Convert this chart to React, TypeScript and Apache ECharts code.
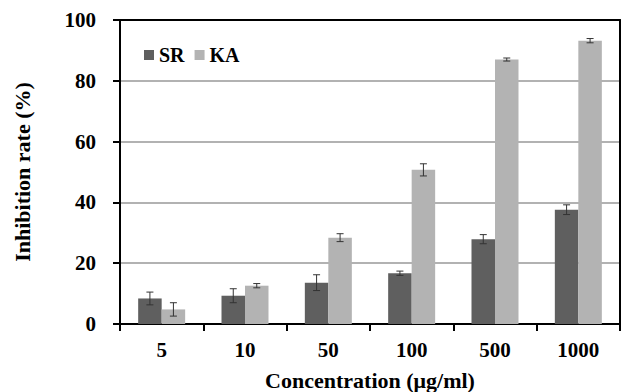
import React, { useEffect, useRef } from "react";
import * as echarts from "echarts";

const categories = ["5", "10", "50", "100", "500", "1000"];
const srValues = [8.4, 9.3, 13.6, 16.7, 27.9, 37.6];
const srErrors = [2.1, 2.3, 2.6, 0.7, 1.5, 1.6];
const kaValues = [4.8, 12.6, 28.4, 50.7, 87.0, 93.2];
const kaErrors = [2.2, 0.7, 1.3, 2.0, 0.5, 0.7];
const yTicks = [0, 20, 40, 60, 80, 100];

const FONT = '"Liberation Serif", "Times New Roman", serif';
const SR_COLOR = "#5f5f5f";
const KA_COLOR = "#b3b3b3";
const BAR_FRAC = 0.282;

function errorSeries(values: number[], errors: number[], side: number) {
  return {
    type: "custom",
    silent: true,
    z: 10,
    data: values.map((v, i) => [i, v - errors[i], v + errors[i]]),
    renderItem: (params: any, api: any) => {
      const idx = api.value(0);
      const lo = api.coord([idx, api.value(1)]);
      const hi = api.coord([idx, api.value(2)]);
      const band = api.size([1, 0])[0];
      const x = lo[0] + side * band * BAR_FRAC * 0.5;
      const cap = 3.5;
      const style = { stroke: "#333333", lineWidth: 1 };
      return {
        type: "group",
        children: [
          { type: "line", shape: { x1: x, y1: lo[1], x2: x, y2: hi[1] }, style },
          { type: "line", shape: { x1: x - cap, y1: lo[1], x2: x + cap, y2: lo[1] }, style },
          { type: "line", shape: { x1: x - cap, y1: hi[1], x2: x + cap, y2: hi[1] }, style },
        ],
      };
    },
  };
}

export default function App() {
  const ref = useRef<HTMLDivElement>(null);
  useEffect(() => {
    if (!ref.current) return;
    const chart = echarts.init(ref.current, null, { renderer: "svg" });
    const labelStyle = { fontFamily: FONT, fontWeight: "bold", fontSize: 21, color: "#000" };
    chart.setOption({
      animation: false,
      backgroundColor: "#ffffff",
      grid: {
        left: 120,
        right: 4,
        top: 20,
        bottom: 68,
        outerBoundsMode: "none",
        containLabel: false,
      },
      legend: {
        left: 139,
        top: 40,
        itemWidth: 10,
        itemHeight: 10,
        itemGap: 10,
        icon: "rect",
        textStyle: { fontFamily: FONT, fontWeight: "bold", fontSize: 20, color: "#000" },
        data: ["SR", "KA"],
      },
      xAxis: [
        {
          type: "category",
          data: categories,
          name: "Concentration (μg/ml)",
          nameLocation: "middle",
          nameGap: 45,
          nameTextStyle: { ...labelStyle, fontSize: 22 },
          axisLine: { lineStyle: { color: "#000", width: 2 } },
          axisTick: { show: true, length: 7, lineStyle: { color: "#000", width: 2 } },
          axisLabel: { margin: 15, ...labelStyle },
        },
        {
          type: "category",
          data: categories,
          position: "top",
          axisLine: { show: true, onZero: false, lineStyle: { color: "#000", width: 2 } },
          axisTick: { show: false },
          axisLabel: { show: false },
        },
      ],
      yAxis: [
        {
          type: "value",
          min: yTicks[0],
          max: yTicks[yTicks.length - 1],
          interval: 20,
          name: "Inhibition rate (%)",
          nameLocation: "middle",
          nameGap: 87,
          nameTextStyle: { ...labelStyle, fontSize: 22 },
          axisLine: { show: true, lineStyle: { color: "#000", width: 2 } },
          axisTick: { show: true, length: 7, lineStyle: { color: "#000", width: 2 } },
          axisLabel: { margin: 24, ...labelStyle },
          splitLine: { show: true, lineStyle: { color: "#999999", width: 1.5 } },
        },
        {
          type: "value",
          min: yTicks[0],
          max: yTicks[yTicks.length - 1],
          interval: 20,
          position: "right",
          axisLine: { show: true, onZero: false, lineStyle: { color: "#000", width: 2 } },
          axisTick: { show: false },
          axisLabel: { show: false },
          splitLine: { show: false },
        },
      ],
      series: [
        {
          name: "SR",
          type: "bar",
          data: srValues,
          barWidth: "28.2%",
          barGap: "0%",
          itemStyle: { color: SR_COLOR },
        },
        {
          name: "KA",
          type: "bar",
          data: kaValues,
          barWidth: "28.2%",
          barGap: "0%",
          itemStyle: { color: KA_COLOR },
        },
        errorSeries(srValues, srErrors, -1),
        errorSeries(kaValues, kaErrors, 1),
      ],
    });
    return () => chart.dispose();
  }, []);
  return <div ref={ref} style={{ width: 624, height: 392, position: "absolute", left: 0, top: 0 }} />;
}
